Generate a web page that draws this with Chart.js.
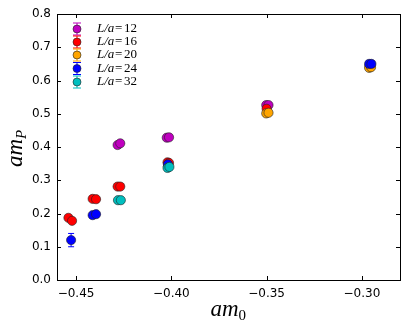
<!DOCTYPE html>
<html>
<head>
<meta charset="utf-8">
<script src="https://cdn.jsdelivr.net/npm/chart.js@4/dist/chart.umd.min.js"></script>
<style>
  html, body { margin: 0; padding: 0; background: #fff; }
  #wrap { width: 407px; height: 328px; }
</style>
</head>
<body>
<div id="wrap"><canvas id="chart"></canvas></div>
<script>
// valores
const xTicks = [-0.45, -0.40, -0.35, -0.30];
const yTicks = [0.0, 0.1, 0.2, 0.3, 0.4, 0.5, 0.6, 0.7, 0.8];

const labels = ['12', '16', '20', '24', '32'];
const colors = ['#bf00bf', '#ff0000', '#ffa500', '#0000ff', '#00bfbf'];

const am0_L12 = [-0.4282, -0.4268, -0.4024, -0.4012, -0.3502, -0.3490];
const amP_L12 = [0.406, 0.411, 0.428, 0.429, 0.526, 0.526];
const err_L12 = [0.003, 0.003, 0.002, 0.002, 0.003, 0.003];

const am0_L16 = [-0.4540, -0.4521, -0.4413, -0.4395, -0.4282, -0.4268, -0.4020, -0.4012, -0.3500, -0.2960];
const amP_L16 = [0.187, 0.178, 0.244, 0.243, 0.281, 0.281, 0.354, 0.352, 0.515, 0.644];
const err_L16 = [0.004, 0.004, 0.003, 0.003, 0.003, 0.003, 0.002, 0.002, 0.002, 0.002];

const am0_L20 = [-0.4018, -0.3502, -0.3490, -0.2962, -0.2952];
const amP_L20 = [0.341, 0.501, 0.503, 0.638, 0.640];
const err_L20 = [0.002, 0.002, 0.002, 0.002, 0.002];

const am0_L24 = [-0.4526, -0.4413, -0.4395, -0.4018, -0.2962, -0.2950];
const amP_L24 = [0.120, 0.195, 0.198, 0.348, 0.650, 0.650];
const err_L24 = [0.020, 0.003, 0.003, 0.002, 0.002, 0.002];

const am0_L32 = [-0.4280, -0.4265, -0.4020, -0.4010];
const amP_L32 = [0.240, 0.240, 0.337, 0.340];
const err_L32 = [0.003, 0.003, 0.002, 0.002];

const seriesX = [am0_L12, am0_L16, am0_L20, am0_L24, am0_L32];
const seriesY = [amP_L12, amP_L16, amP_L20, amP_L24, amP_L32];
const seriesE = [err_L12, err_L16, err_L20, err_L24, err_L32];

const datasets = labels.map((lab, i) => ({
  label: 'L/a = ' + lab,
  data: seriesX[i].map((x, j) => ({ x, y: seriesY[i][j], e: seriesE[i][j] })),
  backgroundColor: colors[i],
  borderColor: '#222',
  borderWidth: 0.6,
  pointRadius: 4.6,
  pointHoverRadius: 4.6,
  order: labels.length - i
}));

const fmt = v => (v < 0 ? '\u2212' : '') + Math.abs(v).toFixed(2);
const serif = '"Liberation Serif", serif';

// barras de error, ticks hacia adentro, titulos y leyenda estilo matplotlib
const decor = {
  id: 'decor',
  beforeDatasetsDraw(chart) {
    const { ctx, scales: { x, y } } = chart;
    ctx.save();
    chart.data.datasets.forEach(ds => {
      ctx.strokeStyle = ds.backgroundColor;
      ctx.lineWidth = 1;
      ds.data.forEach(p => {
        const px = x.getPixelForValue(p.x);
        const y1 = y.getPixelForValue(p.y + p.e);
        const y2 = y.getPixelForValue(p.y - p.e);
        ctx.beginPath();
        ctx.moveTo(px, y1); ctx.lineTo(px, y2);
        ctx.moveTo(px - 3, y1); ctx.lineTo(px + 3, y1);
        ctx.moveTo(px - 3, y2); ctx.lineTo(px + 3, y2);
        ctx.stroke();
      });
    });
    ctx.restore();
  },
  afterDraw(chart) {
    const { ctx, chartArea: a, scales: { x, y } } = chart;
    ctx.save();
    ctx.strokeStyle = '#000';
    ctx.lineWidth = 1;
    ctx.beginPath();
    xTicks.forEach(v => {
      const px = Math.round(x.getPixelForValue(v)) + 0.5;
      ctx.moveTo(px, a.bottom); ctx.lineTo(px, a.bottom - 4);
      ctx.moveTo(px, a.top); ctx.lineTo(px, a.top + 4);
    });
    yTicks.forEach(v => {
      const py = Math.round(y.getPixelForValue(v)) + 0.5;
      ctx.moveTo(a.left, py); ctx.lineTo(a.left + 4, py);
      ctx.moveTo(a.right, py); ctx.lineTo(a.right - 4, py);
    });
    ctx.stroke();
    ctx.strokeRect(Math.round(a.left) + 0.5, Math.round(a.top) + 0.5,
      Math.round(a.right - a.left), Math.round(a.bottom - a.top));

    // titulos de ejes
    ctx.fillStyle = '#000';
    ctx.textBaseline = 'alphabetic';
    const cx = (a.left + a.right) / 2;
    ctx.font = 'italic 23px ' + serif;
    ctx.textAlign = 'right';
    ctx.fillText('am', cx + 10, 316);
    ctx.font = '15px ' + serif;
    ctx.textAlign = 'left';
    ctx.fillText('0', cx + 10, 320);

    ctx.save();
    ctx.translate(22, (a.top + a.bottom) / 2);
    ctx.rotate(-Math.PI / 2);
    ctx.font = 'italic 23px ' + serif;
    ctx.textAlign = 'right';
    ctx.fillText('am', 8, 0);
    ctx.font = 'italic 15px ' + serif;
    ctx.textAlign = 'left';
    ctx.fillText('P', 8, 4);
    ctx.restore();

    // leyenda
    const rowY = [29, 42, 55, 68.5, 82];
    labels.forEach((lab, i) => {
      const lx = 77, ly = rowY[i];
      ctx.strokeStyle = colors[i];
      ctx.lineWidth = 1;
      ctx.beginPath();
      ctx.moveTo(lx, ly - 6); ctx.lineTo(lx, ly + 6);
      ctx.moveTo(lx - 4, ly - 6); ctx.lineTo(lx + 4, ly - 6);
      ctx.moveTo(lx - 4, ly + 6); ctx.lineTo(lx + 4, ly + 6);
      ctx.stroke();
      ctx.beginPath();
      ctx.arc(lx, ly, 4, 0, Math.PI * 2);
      ctx.fillStyle = colors[i];
      ctx.fill();
      ctx.strokeStyle = '#222';
      ctx.lineWidth = 0.6;
      ctx.stroke();
      ctx.fillStyle = '#000';
      ctx.textAlign = 'left';
      ctx.textBaseline = 'middle';
      ctx.font = 'italic 13px ' + serif;
      ctx.fillText('L/a', 97, ly);
      ctx.font = '13px ' + serif;
      ctx.fillText('=', 115, ly);
      ctx.fillText(lab, 124, ly);
    });
    ctx.restore();
  }
};

new Chart(document.getElementById('chart'), {
  type: 'scatter',
  data: { datasets },
  plugins: [decor],
  options: {
    responsive: true,
    maintainAspectRatio: false,
    animation: false,
    events: [],
    layout: { padding: { left: 0, right: 7, top: 14, bottom: 0 } },
    plugins: { legend: { display: false }, tooltip: { enabled: false } },
    scales: {
      x: {
        type: 'linear',
        min: -0.46,
        max: -0.28,
        afterBuildTicks: s => { s.ticks = xTicks.map(v => ({ value: v })); },
        afterFit: s => { s.height = 48; },
        grid: { display: false, drawTicks: false },
        border: { display: false },
        ticks: {
          color: '#000',
          padding: 7,
          font: { family: '"DejaVu Sans"', size: 12 },
          callback: v => fmt(v)
        }
      },
      y: {
        type: 'linear',
        min: 0,
        max: 0.8,
        afterBuildTicks: s => { s.ticks = yTicks.map(v => ({ value: v })); },
        afterFit: s => { s.width = 57; },
        grid: { display: false, drawTicks: false },
        border: { display: false },
        ticks: {
          color: '#000',
          padding: 6,
          font: { family: '"DejaVu Sans"', size: 12 },
          callback: v => v.toFixed(1)
        }
      }
    }
  }
});
</script>
</body>
</html>
